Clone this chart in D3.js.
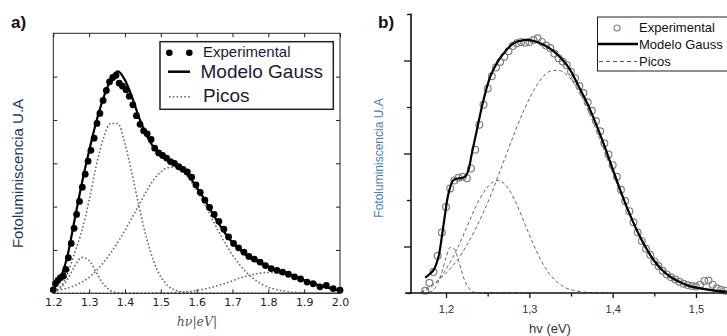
<!DOCTYPE html>
<html><head><meta charset="utf-8">
<script src="https://cdn.jsdelivr.net/npm/d3@7"></script>
<style>body{margin:0;background:#fff}svg{display:block}</style>
</head><body>
<svg id="c" width="727" height="336"></svg>
<script>
// ---------- Panel a data ----------
const aTicks = [1.2,1.3,1.4,1.5,1.6,1.7,1.8,1.9,2.0];
const aTickLabels = ["1.2","1.3","1.4","1.5","1.6","1.7","1.8","1.9","2.0"];
const aX = [1.20,1.22,1.24,1.26,1.28,1.30,1.32,1.34,1.36,1.38,1.40,1.42,1.44,1.46,1.48,1.50,1.52,1.54,1.56,1.58,1.60,1.62,1.64,1.66,1.68,1.70,1.72,1.74,1.76,1.78,1.80,1.82,1.84,1.86,1.88,1.90,1.92,1.94,1.96,1.98,2.00];
const aModel = [0.14,0.36,0.88,1.72,2.55,3.29,3.96,4.51,4.92,5.12,4.92,4.52,4.04,3.65,3.37,3.19,3.08,2.99,2.86,2.68,2.45,2.19,1.90,1.63,1.38,1.17,1.01,0.87,0.77,0.69,0.61,0.55,0.49,0.43,0.37,0.30,0.24,0.19,0.14,0.10,0.06];
const aPeak1 = [0.03,0.12,0.33,0.63,0.83,0.76,0.48,0.21,0.06,0.01,0,0,0,0,0,0,0,0,0,0,0,0,0,0,0,0,0,0,0,0,0,0,0,0,0,0,0,0,0,0,0];
const aPeak2 = [0.05,0.15,0.45,0.95,1.45,2.15,2.95,3.58,3.92,3.92,3.45,2.75,1.98,1.28,0.74,0.38,0.17,0.07,0.03,0.01,0,0,0,0,0,0,0,0,0,0,0,0,0,0,0,0,0,0,0,0,0];
const aPeak3 = [0.05,0.08,0.12,0.18,0.26,0.37,0.52,0.71,0.93,1.18,1.45,1.75,2.05,2.36,2.62,2.80,2.90,2.91,2.81,2.63,2.38,2.09,1.77,1.45,1.15,0.88,0.66,0.47,0.33,0.22,0.14,0.09,0.055,0.03,0.02,0.01,0.005,0,0,0,0];
const aPeak4 = [0,0,0,0,0,0,0,0,0,0,0,0,0,0,0.003,0.005,0.01,0.016,0.027,0.043,0.065,0.095,0.133,0.18,0.23,0.29,0.35,0.40,0.44,0.47,0.48,0.47,0.44,0.40,0.35,0.29,0.23,0.18,0.13,0.095,0.065];
const aExpX = [1.200,1.206,1.213,1.220,1.228,1.235,1.242,1.250,1.258,1.265,1.273,1.281,1.289,1.297,1.305,1.314,1.322,1.330,1.339,1.348,1.357,1.366,1.375,1.384,1.393,1.403,1.412,1.422,1.432,1.442,1.452,1.462,1.473,1.483,1.494,1.505,1.516,1.527,1.538,1.550,1.562,1.574,1.586,1.598,1.610,1.623,1.636,1.649,1.662,1.676,1.689,1.703,1.717,1.732,1.746,1.761,1.777,1.792,1.808,1.824,1.840,1.856,1.873,1.890,1.908,1.925,1.944,1.962,1.981,2.000];
const aExpY = [0.08,0.22,0.30,0.36,0.40,0.55,0.82,1.15,1.50,1.82,2.12,2.45,2.75,3.05,3.30,3.58,3.92,4.15,4.45,4.68,4.88,4.98,5.03,4.85,4.78,4.70,4.55,4.35,4.10,3.90,3.75,3.68,3.55,3.35,3.24,3.18,3.12,3.04,3.00,2.92,2.86,2.80,2.68,2.50,2.33,2.15,1.98,1.82,1.66,1.48,1.30,1.15,1.05,0.95,0.85,0.79,0.72,0.64,0.57,0.53,0.49,0.44,0.38,0.33,0.26,0.22,0.15,0.18,0.11,0.07];

// ---------- Panel b data ----------
const bTicks = [1.2,1.3,1.4,1.5];
const bTickLabels = ["1,2","1,3","1,4","1,5"];
const bMinorTicks = [1.25,1.35,1.45];
const bModelX = [1.175,1.185,1.191,1.195,1.199,1.203,1.209,1.217,1.223,1.227,1.231,1.237,1.245,1.253,1.261,1.269,1.281,1.293,1.305,1.317,1.329,1.339,1.349,1.359,1.369,1.379,1.389,1.399,1.409,1.419,1.429,1.439,1.449,1.459,1.469,1.479,1.489,1.499,1.509,1.523,1.537];
const bModelY = [0.33,0.49,0.78,1.21,1.71,2.14,2.43,2.47,2.50,2.65,3.00,3.50,4.15,4.65,4.94,5.15,5.37,5.44,5.42,5.34,5.20,5.03,4.80,4.45,4.10,3.68,3.22,2.72,2.22,1.76,1.35,1.00,0.71,0.50,0.35,0.25,0.17,0.12,0.09,0.05,0.03];
const bPeakAX = [1.180,1.185,1.190,1.195,1.200,1.205,1.210,1.215,1.220,1.225,1.230,1.235,1.240,1.250,1.260,1.270,1.280,1.290,1.300];
const bPeakAY = [0.02,0.07,0.20,0.45,0.76,0.98,0.95,0.70,0.39,0.17,0.05,0.01,0,0,0,0,0,0,0];
const bPeakBX = [1.170,1.175,1.185,1.195,1.205,1.215,1.225,1.235,1.245,1.255,1.262,1.265,1.275,1.285,1.295,1.305,1.315,1.325,1.335,1.345,1.355,1.365,1.375,1.385,1.395];
const bPeakBY = [0,0.05,0.17,0.38,0.66,1.01,1.42,1.83,2.16,2.37,2.42,2.41,2.24,1.90,1.47,1.04,0.67,0.39,0.21,0.10,0.05,0.02,0.01,0,0];
const bPeakCX = [1.170,1.175,1.185,1.195,1.205,1.215,1.225,1.235,1.245,1.255,1.265,1.275,1.285,1.295,1.305,1.315,1.325,1.335,1.345,1.355,1.365,1.375,1.385,1.395,1.405,1.415,1.425,1.435,1.445,1.455,1.465,1.475,1.485,1.495,1.505,1.515,1.525,1.535];
const bPeakCY = [0.02,0.08,0.20,0.34,0.52,0.74,1.03,1.36,1.74,2.16,2.63,3.10,3.57,3.99,4.35,4.62,4.77,4.79,4.69,4.47,4.15,3.74,3.29,2.82,2.35,1.90,1.50,1.15,0.86,0.63,0.45,0.31,0.21,0.135,0.086,0.053,0.032,0.019];
const bExpX = [1.175,1.180,1.185,1.190,1.195,1.200,1.205,1.210,1.215,1.220,1.225,1.230,1.235,1.240,1.245,1.250,1.255,1.260,1.265,1.270,1.275,1.280,1.285,1.290,1.295,1.300,1.305,1.310,1.315,1.320,1.325,1.330,1.335,1.340,1.345,1.350,1.355,1.360,1.365,1.370,1.375,1.380,1.385,1.390,1.395,1.400,1.405,1.410,1.415,1.420,1.425,1.430,1.435,1.440,1.445,1.450,1.455,1.460,1.465,1.470,1.475,1.480,1.485,1.490,1.495,1.500,1.505,1.510,1.515,1.520,1.525,1.530,1.535];
const bExpY = [0.05,0.22,0.45,0.80,1.30,1.85,2.25,2.42,2.48,2.50,2.47,2.68,3.08,3.62,4.05,4.40,4.66,4.85,4.97,5.08,5.20,5.31,5.37,5.40,5.38,5.40,5.44,5.48,5.40,5.32,5.27,5.15,5.05,4.98,4.90,4.76,4.62,4.45,4.30,4.10,3.92,3.70,3.48,3.22,2.98,2.75,2.50,2.22,1.98,1.76,1.52,1.30,1.12,0.95,0.82,0.68,0.58,0.48,0.40,0.34,0.29,0.24,0.20,0.17,0.15,0.14,0.18,0.26,0.27,0.18,0.10,0.07,0.05];

const svg = d3.select("#c");
svg.append("rect").attr("width",727).attr("height",336).attr("fill","#fff");

// ================= PANEL A =================
const xa = d3.scaleLinear().domain([1.2,2.0]).range([53.3,340]);
const ya = d3.scaleLinear().domain([0,6]).range([293.3,33.3]);
const ga = svg.append("g");
const fa = "'DejaVu Sans', sans-serif";

const lineA = d3.line().x(d=>xa(d[0])).y(d=>ya(d[1])).curve(d3.curveMonotoneX);
[aPeak1,aPeak2,aPeak3,aPeak4].forEach(p=>{
  ga.append("path").attr("d", lineA(aX.map((x,i)=>[x,p[i]])))
    .attr("fill","none").attr("stroke","#6a6a6a").attr("stroke-width",1.6)
    .attr("stroke-dasharray","1.6,2.2");
});
ga.append("path").attr("d", lineA(aX.map((x,i)=>[x,aModel[i]])))
  .attr("fill","none").attr("stroke","#000").attr("stroke-width",2.2);
ga.selectAll("circle.ea").data(aExpX.map((x,i)=>[x,aExpY[i]])).enter().append("circle")
  .attr("cx",d=>xa(d[0])).attr("cy",d=>ya(d[1])).attr("r",3.4).attr("fill","#000");

const axB = d3.axisBottom(xa).tickValues(aTicks).tickSize(-4).tickPadding(5)
  .tickFormat((d,i)=>aTickLabels[i]);
const gxa = ga.append("g").attr("transform","translate(0,293.3)").call(axB);
const gxt = ga.append("g").attr("transform","translate(0,33.3)").call(d3.axisTop(xa).tickValues(aTicks).tickSize(-4).tickFormat(""));
const gyl = ga.append("g").attr("transform","translate(53.3,0)").call(d3.axisLeft(ya).tickValues([1,2,3,4,5]).tickSize(-4).tickFormat(""));
const gyr = ga.append("g").attr("transform","translate(340,0)").call(d3.axisRight(ya).tickValues([1,2,3,4,5]).tickSize(-4).tickFormat(""));
[gxa,gxt,gyl,gyr].forEach(g=>{
  g.select(".domain").remove();
  g.selectAll("line").attr("stroke","#222").attr("stroke-width",1);
});
gxa.selectAll("text").attr("font-family",fa).attr("font-size",11).attr("fill","#222");
ga.append("rect").attr("x",53.3).attr("y",33.3).attr("width",286.7).attr("height",260)
  .attr("fill","none").attr("stroke","#222").attr("stroke-width",1);

ga.append("text").attr("x",197).attr("y",326).attr("text-anchor","middle")
  .attr("font-family","'DejaVu Serif', serif").attr("font-style","italic").attr("font-size",12.5)
  .attr("fill","#555").text("hν|eV|");
ga.append("text").attr("transform","translate(23,173.5) rotate(-90)").attr("text-anchor","middle")
  .attr("font-family","'Liberation Sans', Arial, sans-serif").attr("font-size",15)
  .attr("fill","#1f3763").text("Fotoluminiscencia U.A");
ga.append("text").attr("x",11).attr("y",28).attr("font-family","'Liberation Sans', Arial, sans-serif")
  .attr("font-weight","bold").attr("font-size",17).attr("fill","#111").text("a)");

const la = ga.append("g");
la.append("rect").attr("x",160).attr("y",41.7).attr("width",173.3).attr("height",67.6)
  .attr("fill","#fff").attr("stroke","#222").attr("stroke-width",1.5);
[169.3,189.3].forEach(cx=>la.append("circle").attr("cx",cx).attr("cy",52.7).attr("r",3.3).attr("fill","#000"));
la.append("line").attr("x1",168).attr("x2",190).attr("y1",71.7).attr("y2",71.7).attr("stroke","#000").attr("stroke-width",2.5);
la.append("line").attr("x1",169).attr("x2",190).attr("y1",96.7).attr("y2",96.7).attr("stroke","#6a6a6a").attr("stroke-width",1.6).attr("stroke-dasharray","1.6,2.2");
const lf = "'Liberation Sans', Arial, sans-serif";
la.append("text").attr("x",203).attr("y",57).attr("font-family",lf).attr("font-size",15).attr("fill","#1a1a33").text("Experimental");
la.append("text").attr("x",200.5).attr("y",78).attr("font-family",lf).attr("font-size",19).attr("fill","#1a1a33").text("Modelo Gauss");
la.append("text").attr("x",203).attr("y",101.5).attr("font-family",lf).attr("font-size",19).attr("fill","#1a1a33").text("Picos");

// ================= PANEL B =================
const xb = d3.scaleLinear().domain([1.2,1.5]).range([446,696]);
const yb = d3.scaleLinear().domain([0,6]).range([293,14]);
const gb = svg.append("g");
const lineB = d3.line().x(d=>xb(d[0])).y(d=>yb(d[1])).curve(d3.curveMonotoneX);

[[bPeakAX,bPeakAY],[bPeakBX,bPeakBY],[bPeakCX,bPeakCY]].forEach(([xs,ys])=>{
  gb.append("path").attr("d", lineB(xs.map((x,i)=>[x,ys[i]])))
    .attr("fill","none").attr("stroke","#666").attr("stroke-width",1)
    .attr("stroke-dasharray","3.5,2.5");
});
gb.selectAll("circle.eb").data(bExpX.map((x,i)=>[x,bExpY[i]])).enter().append("circle")
  .attr("cx",d=>xb(d[0])).attr("cy",d=>yb(d[1])).attr("r",3.4)
  .attr("fill","none").attr("stroke","#808080").attr("stroke-width",1.2);
gb.append("path").attr("d", d3.line().x(d=>xb(d[0])).y(d=>yb(d[1])).curve(d3.curveCatmullRom)(bModelX.map((x,i)=>[x,bModelY[i]])))
  .attr("fill","none").attr("stroke","#000").attr("stroke-width",2.2);

const bf = "'Liberation Sans', Arial, sans-serif";
const gxb = gb.append("g").attr("transform","translate(0,293)")
  .call(d3.axisBottom(xb).tickValues(bTicks).tickSize(5).tickPadding(7).tickFormat((d,i)=>bTickLabels[i]));
const gxbm = gb.append("g").attr("transform","translate(0,293)")
  .call(d3.axisBottom(xb).tickValues(bMinorTicks).tickSize(3.5).tickFormat(""));
const gybM = gb.append("g").attr("transform","translate(411,0)")
  .call(d3.axisLeft(yb).tickValues([1,3,5]).tickSize(7).tickFormat(""));
const gybm = gb.append("g").attr("transform","translate(411,0)")
  .call(d3.axisLeft(yb).tickValues([0,2,4,6]).tickSize(4).tickFormat(""));
[gxb,gxbm,gybM,gybm].forEach(g=>{
  g.select(".domain").remove();
  g.selectAll("line").attr("stroke","#111").attr("stroke-width",1.3);
});
gxb.selectAll("text").attr("font-family",bf).attr("font-size",11).attr("fill","#333");
gb.append("line").attr("x1",405).attr("x2",727).attr("y1",293).attr("y2",293).attr("stroke","#111").attr("stroke-width",1.6);
gb.append("line").attr("x1",411).attr("x2",411).attr("y1",13.5).attr("y2",293.5).attr("stroke","#111").attr("stroke-width",1.6);

gb.append("text").attr("x",550).attr("y",332.5).attr("text-anchor","middle")
  .attr("font-family",bf).attr("font-size",13).attr("fill","#333").text("hv (eV)");
gb.append("text").attr("transform","translate(383,158) rotate(-90)").attr("text-anchor","middle")
  .attr("font-family",bf).attr("font-size",12).attr("fill","#4a7ebb").text("Fotoluminiscencia U.A");
gb.append("text").attr("x",378).attr("y",28).attr("font-family",bf)
  .attr("font-weight","bold").attr("font-size",17).attr("fill","#111").text("b)");

const lb = gb.append("g");
lb.append("rect").attr("x",597.5).attr("y",17).attr("width",140).attr("height",54)
  .attr("fill","#fff").attr("stroke","#222").attr("stroke-width",1);
lb.append("circle").attr("cx",617).attr("cy",28).attr("r",3).attr("fill","none").attr("stroke","#808080").attr("stroke-width",1.1);
lb.append("line").attr("x1",598).attr("x2",638).attr("y1",44).attr("y2",44).attr("stroke","#000").attr("stroke-width",2.5);
lb.append("line").attr("x1",599).attr("x2",637).attr("y1",61.5).attr("y2",61.5).attr("stroke","#555").attr("stroke-width",1).attr("stroke-dasharray","4,3");
lb.append("text").attr("x",639).attr("y",32).attr("font-family",bf).attr("font-size",13).attr("fill","#111").text("Experimental");
lb.append("text").attr("x",639).attr("y",49).attr("font-family",bf).attr("font-size",13).attr("fill","#111").text("Modelo Gauss");
lb.append("text").attr("x",639).attr("y",66).attr("font-family",bf).attr("font-size",13).attr("fill","#111").text("Picos");
</script>
</body></html>
